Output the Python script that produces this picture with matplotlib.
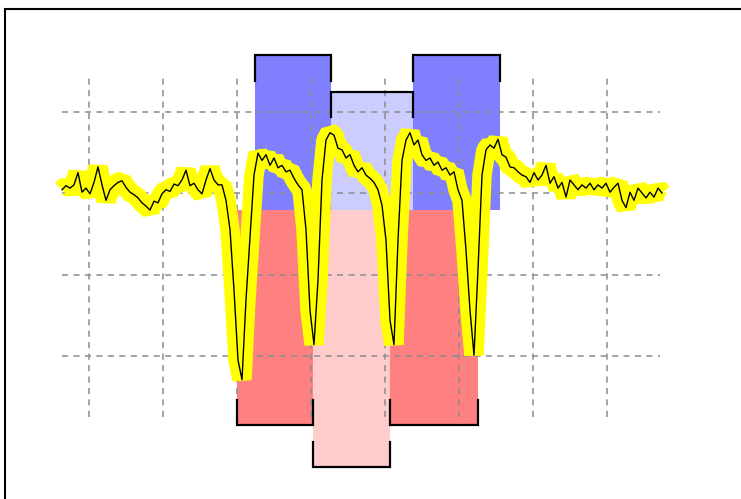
import numpy as np
import matplotlib
matplotlib.use("Agg")
import matplotlib.pyplot as plt
from matplotlib.patches import Rectangle

# bar data: three upward bars and three downward bars from a common baseline
baseline = -0.21
up_left = [2.243, 3.270, 4.378]
up_width = [1.027, 1.108, 1.176]
up_height = [1.90, 1.45, 1.90]
up_colors = ["#8080ff", "#ccccff", "#8080ff"]

down_left = [2.0, 3.027, 4.068]
down_width = [1.027, 1.041, 1.189]
down_height = [-2.64, -3.15, -2.64]
down_colors = ["#ff8080", "#ffcccc", "#ff8080"]

# noisy signal with four dips
signal_start, signal_end = -0.365, 7.743
signal = [
    0.04, 0.09, 0.06, 0.10, 0.25, 0.01, 0.06, -0.01, 0.13, 0.32,
    0.10, -0.09, 0.04, 0.09, 0.13, 0.15, 0.07, 0.01, -0.02, -0.06,
    -0.12, -0.16, -0.21, -0.10, -0.12, -0.01, 0.04, 0.02, 0.11, 0.09,
    0.16, 0.28, 0.09, 0.12, 0.04, -0.01, 0.16, 0.30, 0.16, 0.10,
    0.10, -0.09, -0.45, -1.19, -2.05, -2.29, -1.31, -0.54, 0.22, 0.49,
    0.40, 0.47, 0.34, 0.43, 0.31, 0.34, 0.26, 0.28, 0.18, 0.10,
    0.04, -0.45, -1.44, -1.86, -1.07, 0.16, 0.65, 0.74, 0.71, 0.55,
    0.53, 0.43, 0.47, 0.34, 0.26, 0.31, 0.22, 0.18, 0.13, 0.04,
    -0.15, -0.58, -1.56, -1.86, -0.58, 0.40, 0.65, 0.74, 0.59, 0.65,
    0.47, 0.40, 0.43, 0.34, 0.38, 0.28, 0.31, 0.22, 0.26, 0.04,
    -0.09, -0.70, -1.44, -1.99, -0.94, 0.22, 0.53, 0.59, 0.55, 0.66,
    0.47, 0.44, 0.32, 0.31, 0.26, 0.22, 0.20, 0.13, 0.25, 0.16,
    0.22, 0.34, 0.12, 0.20, 0.06, 0.13, -0.05, 0.16, 0.10, 0.04,
    0.10, 0.06, 0.12, 0.04, 0.10, 0.06, 0.12, 0.01, 0.07, 0.12,
    -0.09, -0.18, 0.01, -0.09, 0.06, 0.00, -0.06, 0.01, -0.05, 0.06,
    0.00,
]

x_ticks = [0, 1, 2, 3, 4, 5, 6, 7]
y_ticks = [-2, -1, 0, 1]
cap = 0.31

fig = plt.figure(figsize=(7.41, 4.99), dpi=100)
ax = fig.add_axes([62 / 741, 1 - 417 / 499, 598 / 741, 342 / 499])
ax.set_xlim(-0.365, 7.716)
ax.set_ylim(-2.748, 1.448)
ax.set_xticks(x_ticks)
ax.set_yticks(y_ticks)
ax.tick_params(length=0, labelbottom=False, labelleft=False)
for s in ax.spines.values():
    s.set_visible(False)
ax.set_axisbelow(False)
ax.grid(True, color="#8c8c8c", lw=1.1, linestyle=(0, (4, 3.5)))

ax.bar(up_left, up_height, width=up_width, bottom=baseline, align="edge",
       color=up_colors, zorder=1, clip_on=False)
ax.bar(down_left, down_height, width=down_width, bottom=baseline, align="edge",
       color=down_colors, zorder=1, clip_on=False)

# black caps on the bar ends
for l, w, h in zip(up_left, up_width, up_height):
    top = baseline + h
    ax.plot([l, l, l + w, l + w], [top - cap, top, top, top - cap],
            color="black", lw=1.6, zorder=4, clip_on=False,
            solid_joinstyle="miter")
for l, w, h in zip(down_left, down_width, down_height):
    bot = baseline + h
    ax.plot([l, l, l + w, l + w], [bot + cap, bot, bot, bot + cap],
            color="black", lw=1.6, zorder=4, clip_on=False,
            solid_joinstyle="miter")

xs = np.linspace(signal_start, signal_end, len(signal))
ax.plot(xs, signal, color="yellow", lw=14, zorder=3,
        solid_joinstyle="bevel", solid_capstyle="butt", clip_on=False)
ax.plot(xs, signal, color="black", lw=1.0, zorder=3.5, clip_on=False)

# outer frame
fig.add_artist(Rectangle((5 / 741, -0.1), 1.2, 1.1 - 9 / 499,
                         transform=fig.transFigure, fill=False,
                         ec="black", lw=1.5))

fig.savefig("out.png", dpi=100)
